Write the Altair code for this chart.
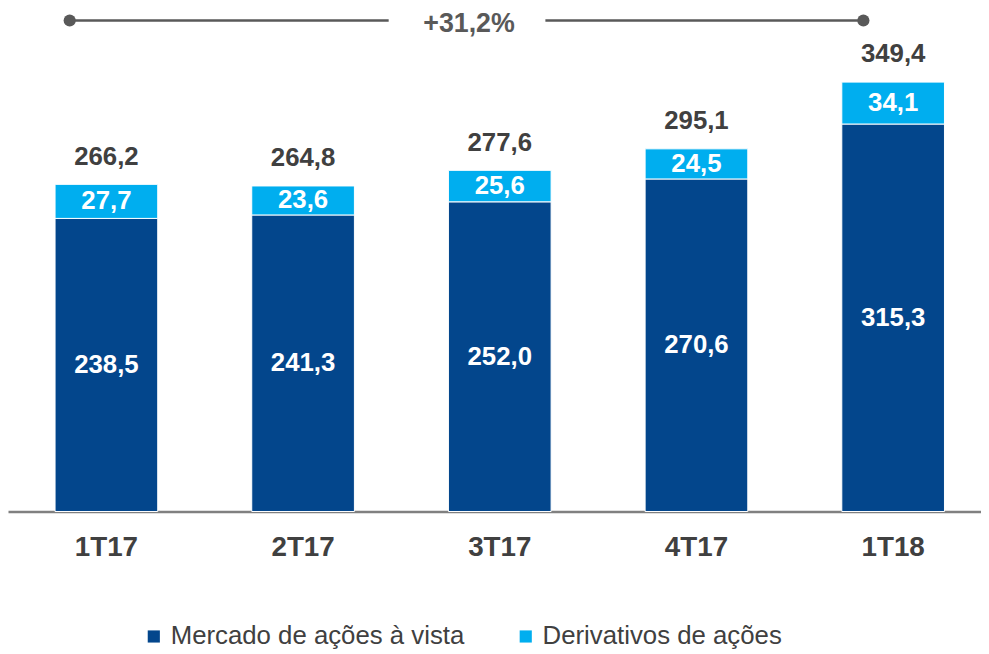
import altair as alt
import pandas as pd

quarters = ["1T17", "2T17", "3T17", "4T17", "1T18"]
mercado = [238.5, 241.3, 252.0, 270.6, 315.3]
derivativos = [27.7, 23.6, 25.6, 24.5, 34.1]
totals = [266.2, 264.8, 277.6, 295.1, 349.4]
series_names = ["Mercado de ações à vista", "Derivativos de ações"]
colors = ["#03468C", "#00AEEF"]
growth_label = "+31,2%"

def fmt(v):
    return f"{v:.1f}".replace(".", ",")

rows = []
for q, m, d in zip(quarters, mercado, derivativos):
    rows.append({"q": q, "serie": series_names[0], "v": m, "ord": 0, "lbl": fmt(m)})
    rows.append({"q": q, "serie": series_names[1], "v": d, "ord": 1, "lbl": fmt(d)})
df = pd.DataFrame(rows)
tot = pd.DataFrame({"q": quarters, "t": totals, "lbl": [fmt(t) for t in totals]})

FONT = "Liberation Sans"
GRAY = "#404040"
YMAX = 399.5

xscale = alt.Scale(domain=quarters, paddingInner=0.478, paddingOuter=0.2125, align=0.563)
yscale = alt.Scale(domain=[0, YMAX], nice=False, zero=True)

x = alt.X("q:N", scale=xscale, sort=quarters,
          axis=alt.Axis(title=None, ticks=False, labelAngle=0, labelFont=FONT,
                        labelFontSize=28, labelFontWeight="bold", labelColor=GRAY,
                        labelPadding=22, domainColor="#808080", domainWidth=2.5,
                        grid=False))

bars = alt.Chart(df).mark_bar(stroke="white", strokeWidth=1).encode(
    x=x,
    y=alt.Y("v:Q", stack="zero", scale=yscale, axis=None),
    color=alt.Color("serie:N", sort=series_names,
                    scale=alt.Scale(domain=series_names, range=colors),
                    legend=alt.Legend(title=None, orient="none", direction="horizontal",
                                      legendX=134, legendY=608, symbolType="square",
                                      symbolSize=150, symbolStrokeWidth=0,
                                      labelFont=FONT, labelFontSize=26, labelColor=GRAY,
                                      columnPadding=48, labelLimit=400)),
    order=alt.Order("ord:Q"),
)

seg_labels = alt.Chart(df).transform_stack(
    stack="v", groupby=["q"], as_=["y0", "y1"], sort=[alt.SortField("ord", "ascending")]
).transform_calculate(mid="(datum.y0 + datum.y1) / 2").mark_text(
    font=FONT, fontSize=26, fontWeight="bold", color="white", baseline="middle"
).encode(
    x=alt.X("q:N", scale=xscale, sort=quarters),
    y=alt.Y("mid:Q", scale=yscale, axis=None),
    text="lbl:N",
)

tot_labels = alt.Chart(tot).mark_text(
    font=FONT, fontSize=26, fontWeight="bold", color=GRAY, baseline="middle", dy=-28
).encode(
    x=alt.X("q:N", scale=xscale, sort=quarters),
    y=alt.Y("t:Q", scale=yscale, axis=None),
    text="lbl:N",
)

ann = pd.DataFrame({"a": [quarters[0]], "b": [quarters[2]], "c": [quarters[4]],
                    "lvl": [YMAX], "txt": [growth_label]})

line_left = alt.Chart(ann).mark_rule(color="#595959", strokeWidth=2.5,
                                     xOffset=-37, x2Offset=-112).encode(
    x=alt.X("a:N", scale=xscale, sort=quarters), x2="b:N",
    y=alt.Y("lvl:Q", scale=yscale, axis=None))
line_right = alt.Chart(ann).mark_rule(color="#595959", strokeWidth=2.5,
                                      xOffset=46, x2Offset=-30).encode(
    x=alt.X("b:N", scale=xscale, sort=quarters), x2="c:N",
    y=alt.Y("lvl:Q", scale=yscale, axis=None))
dot_left = alt.Chart(ann).mark_point(filled=True, size=150, color="#595959", opacity=1,
                                     xOffset=-37).encode(
    x=alt.X("a:N", scale=xscale, sort=quarters), y=alt.Y("lvl:Q", scale=yscale, axis=None))
dot_right = alt.Chart(ann).mark_point(filled=True, size=150, color="#595959", opacity=1,
                                      xOffset=-30).encode(
    x=alt.X("c:N", scale=xscale, sort=quarters), y=alt.Y("lvl:Q", scale=yscale, axis=None))
ann_text = alt.Chart(ann).mark_text(font=FONT, fontSize=27, fontWeight="bold",
                                    color="#595959", baseline="middle", dx=-31, dy=4).encode(
    x=alt.X("b:N", scale=xscale, sort=quarters), y=alt.Y("lvl:Q", scale=yscale, axis=None),
    text="txt:N")

chart = alt.layer(bars, seg_labels, tot_labels, line_left, line_right,
                  dot_left, dot_right, ann_text).properties(
    width=981, height=495,
    background="white",
    autosize=alt.AutoSizeParams(type="none"),
    padding={"left": 0, "top": 10, "right": 0, "bottom": 140},
).configure_view(stroke=None)

chart.save("out.html", embed_options={"renderer": "svg", "actions": False})
